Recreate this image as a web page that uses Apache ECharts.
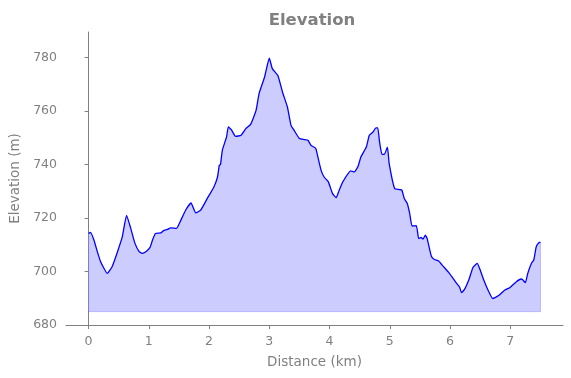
<!DOCTYPE html>
<html>
<head>
<meta charset="utf-8">
<script src="https://cdn.jsdelivr.net/npm/echarts@6/dist/echarts.min.js"></script>
<style>html,body{margin:0;padding:0;background:#fff}#c{width:571px;height:378px}</style>
</head>
<body>
<div id="c"></div>
<script>
const distances = [0, 0.03, 0.09, 0.145, 0.2, 0.255, 0.31, 0.39, 0.48, 0.56, 0.63, 0.7, 0.77, 0.84, 0.89, 0.95, 1.02, 1.06, 1.11, 1.2, 1.24, 1.31, 1.36, 1.46, 1.52, 1.61, 1.7, 1.78, 1.86, 1.97, 2.08, 2.14, 2.17, 2.19, 2.22, 2.29, 2.32, 2.37, 2.44, 2.53, 2.61, 2.69, 2.78, 2.83, 2.92, 3.0, 3.05, 3.14, 3.22, 3.3, 3.36, 3.41, 3.5, 3.58, 3.64, 3.69, 3.77, 3.8, 3.86, 3.91, 3.98, 4.05, 4.11, 4.16, 4.22, 4.35, 4.41, 4.47, 4.52, 4.61, 4.66, 4.72, 4.77, 4.8, 4.83, 4.87, 4.91, 4.96, 4.99, 5.08, 5.16, 5.2, 5.24, 5.29, 5.33, 5.37, 5.44, 5.48, 5.52, 5.55, 5.59, 5.62, 5.69, 5.74, 5.81, 5.88, 5.99, 6.1, 6.16, 6.19, 6.24, 6.32, 6.38, 6.45, 6.49, 6.55, 6.63, 6.71, 6.8, 6.91, 6.99, 7.1, 7.18, 7.21, 7.25, 7.29, 7.35, 7.39, 7.43, 7.47, 7.5];
const elevations = [714.2, 714.6, 711.7, 707.4, 703.6, 701.2, 699.3, 701.8, 707.4, 713, 721, 716.1, 710.5, 707.4, 706.8, 707.4, 709, 711.7, 714.2, 714.4, 715.2, 715.7, 716.3, 716.1, 718.6, 722.9, 725.6, 721.9, 722.9, 727.3, 731.6, 735.3, 739.7, 740, 745.3, 750.3, 754, 753, 750.5, 750.9, 753.4, 755, 760.2, 766.5, 772.6, 779.7, 775.8, 773.3, 767, 761.5, 754.6, 752.8, 749.7, 749.3, 749, 747.2, 746, 743.4, 737.8, 735.3, 733.5, 729.1, 727.6, 730.4, 733.5, 737.6, 737.2, 739.1, 742.8, 746.5, 750.9, 752.1, 753.7, 753.7, 748.4, 743.8, 743.8, 746.5, 740.3, 731, 730.6, 730.4, 727.3, 725.4, 721.7, 717, 717.1, 712.3, 712.7, 712.1, 713.6, 712.3, 705.7, 704.5, 703.9, 702.1, 699.3, 695.8, 694.1, 692.1, 693.3, 697.4, 701.5, 703, 701.2, 697.4, 693.1, 689.9, 690.9, 693.1, 693.9, 696.2, 697.2, 696.8, 695.8, 699.3, 703, 704.3, 709.2, 710.7, 711];
const fillBase = 685;
const xTicks = [0, 1, 2, 3, 4, 5, 6, 7];
const yTicks = [680, 700, 720, 740, 760, 780];

const gray = '#808080';
const font = 'DejaVu Sans';
const lineData = distances.map((d, i) => [d, elevations[i]]);
const n = distances.length;
const edgeData = [[distances[0], elevations[0]], [distances[0], fillBase], [distances[n-1], fillBase], [distances[n-1], elevations[n-1]]];

const chart = echarts.init(document.getElementById('c'), null, {renderer: 'canvas'});
chart.setOption({
  animation: false,
  backgroundColor: '#fff',
  title: {
    text: 'Elevation', left: 307, textAlign: 'center', top: 7,
    textStyle: {fontFamily: font, fontSize: 16.5, fontWeight: 'bold', color: gray}
  },
  grid: {left: 66, right: 8, top: 32, bottom: 53, containLabel: false},
  xAxis: {
    type: 'value', min: -0.375, max: 7.875,
    name: 'Distance (km)', nameLocation: 'middle', nameGap: 30,
    nameTextStyle: {fontFamily: font, fontSize: 13.5, color: gray},
    axisLine: {show: true, lineStyle: {color: gray, width: 1}},
    axisTick: {show: true, length: 4, lineStyle: {color: gray}, customValues: xTicks},
    axisLabel: {fontFamily: font, fontSize: 12.5, color: gray, margin: 10, customValues: xTicks},
    splitLine: {show: false}
  },
  yAxis: {
    type: 'value', min: 680, max: 789.5,
    name: 'Elevation (m)', nameLocation: 'middle', nameGap: 40,
    nameTextStyle: {fontFamily: font, fontSize: 13.5, color: gray},
    axisLine: {show: true, lineStyle: {color: gray, width: 1}},
    axisTick: {show: true, length: 4, lineStyle: {color: gray}, customValues: yTicks},
    axisLabel: {fontFamily: font, fontSize: 12.5, color: gray, margin: 9, customValues: yTicks},
    splitLine: {show: false}
  },
  series: [
    {
      type: 'line', data: lineData, showSymbol: false, smooth: 0.15,
      lineStyle: {color: '#0000ff', width: 1.3},
      areaStyle: {color: '#ccccff', opacity: 1, origin: fillBase},
      z: 3
    },
    {
      type: 'line', data: edgeData, showSymbol: false,
      lineStyle: {color: 'rgba(0,0,255,0.22)', width: 1},
      z: 4
    }
  ]
});
</script>
</body>
</html>
